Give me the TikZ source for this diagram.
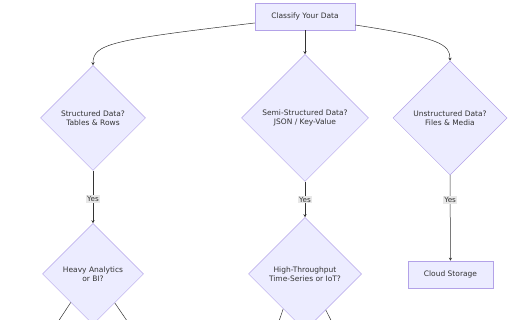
\documentclass[tikz,border=0pt]{standalone}
\usepackage{fontspec}
\setmainfont{DejaVu Sans}
\usetikzlibrary{shapes.geometric,arrows.meta}
\definecolor{nodefill}{HTML}{ECECFF}
\definecolor{nodeline}{HTML}{B3A2E8}
\definecolor{edgecol}{HTML}{333333}
\definecolor{lblfill}{HTML}{E8E8E8}
\tikzset{
  boxnode/.style={draw=nodeline, fill=nodefill, line width=0.5pt, rectangle, inner sep=0pt, text=edgecol, font=\fontsize{7.5}{9.4}\selectfont},
  decnode/.style={draw=nodeline, fill=nodefill, line width=0.5pt, diamond, aspect=1, inner sep=0pt, align=center, text=edgecol, font=\fontsize{7.5}{9.4}\selectfont},
  edge/.style={draw=edgecol, line width=0.5pt, -{Stealth[length=3pt,width=3pt]}},
  plainedge/.style={draw=edgecol, line width=0.5pt},
  yeslbl/.style={fill=lblfill, inner sep=1pt, text=edgecol, font=\fontsize{7.2}{8.5}\selectfont}
}
\begin{document}
\begin{tikzpicture}[x=1pt,y=-1pt]
\useasboundingbox (0,0) rectangle (512,320);
\clip (0,0) rectangle (512,320);
\node[boxnode, minimum width=100pt, minimum height=27pt] (top) at (305,16.5) {Classify Your Data};
\node[decnode, minimum size=105pt] (d1) at (93,118) {Structured Data?\\Tables \& Rows};
\node[decnode, minimum size=127pt] (d2) at (305,118) {Semi-Structured Data?\\JSON / Key-Value};
\node[decnode, minimum size=114pt] (d3) at (450,118) {Unstructured Data?\\Files \& Media};
\node[decnode, minimum size=101pt] (d4) at (93,274) {Heavy Analytics\\or BI?};
\node[decnode, minimum size=113pt] (d5) at (305,274) {High-Throughput\\Time-Series or IoT?};
\node[boxnode, minimum width=85pt, minimum height=27pt] (cs) at (450.5,274.5) {Cloud Storage};
\coordinate (o1) at (50,334);
\coordinate (o2) at (136,334);
\coordinate (o3) at (276,330);
\coordinate (o4) at (336,330);
% edges
\draw[edge] (top.west |- 0,23) .. controls (110,40) and (93,44) .. (d1.north);
\draw[edge] (top.south) -- (d2.north);
\draw[edge] (top.east |- 0,25) .. controls (440,38) and (450,44) .. (d3.north);
\draw[edge] (d1.south) -- node[yeslbl, pos=0.54] {Yes} (d4.north);
\draw[edge] (d2.south) -- node[yeslbl, pos=0.5] {Yes} (d5.north);
\draw[edge] (d3.south) -- node[yeslbl, pos=0.29] {Yes} (cs.north);
\draw[plainedge] (d4.232.8) -- (o1);
\draw[plainedge] (d4.307.2) -- (o2);
\draw[plainedge] (d5.238.6) -- (o3);
\draw[plainedge] (d5.300.3) -- (o4);
\end{tikzpicture}
\end{document}
